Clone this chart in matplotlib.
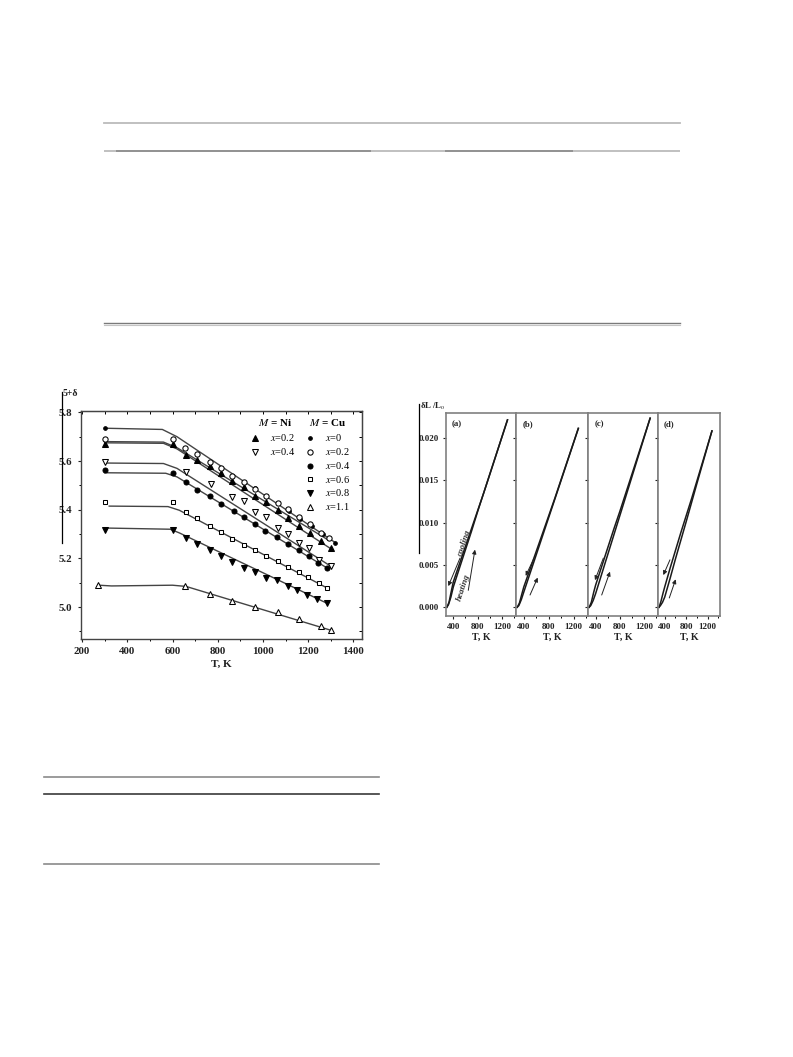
import numpy as np
import matplotlib.pyplot as plt
from matplotlib.ticker import MultipleLocator, FormatStrFormatter

plt.rcParams['font.family'] = ['Liberation Serif', 'DejaVu Serif']
plt.rcParams['mathtext.fontset'] = 'stix'

W, H = 793, 1057

# ---- left chart: oxygen content 5+delta vs T ----
ni02_T = [300, 600, 660, 710, 765, 815, 865, 915, 965, 1015, 1065, 1110, 1160, 1210, 1255, 1300]
ni02_V = [5.672, 5.672, 5.625, 5.605, 5.578, 5.552, 5.518, 5.492, 5.458, 5.432, 5.398, 5.368, 5.335, 5.305, 5.272, 5.242]
ni02_fitT = [300, 560, 620, 1300]
ni02_fitV = [5.675, 5.673, 5.650, 5.240]

ni04_T = [300, 660, 770, 865, 915, 965, 1015, 1065, 1110, 1160, 1205, 1250, 1300]
ni04_V = [5.595, 5.555, 5.505, 5.452, 5.435, 5.392, 5.372, 5.325, 5.302, 5.265, 5.242, 5.195, 5.168]
ni04_fitT = [300, 560, 620, 1300]
ni04_fitV = [5.592, 5.590, 5.570, 5.168]

cu0_T = [300, 965, 1015, 1065, 1115, 1165, 1215, 1265, 1320]
cu0_V = [5.735, 5.490, 5.458, 5.428, 5.395, 5.362, 5.332, 5.300, 5.265]
cu0_fitT = [300, 555, 620, 1320]
cu0_fitV = [5.735, 5.730, 5.700, 5.265]

cu02_T = [300, 600, 655, 710, 765, 815, 865, 915, 965, 1015, 1065, 1110, 1160, 1210, 1255, 1290]
cu02_V = [5.692, 5.690, 5.652, 5.628, 5.596, 5.572, 5.540, 5.515, 5.485, 5.455, 5.428, 5.402, 5.372, 5.342, 5.305, 5.285]
cu02_fitT = [300, 560, 620, 1290]
cu02_fitV = [5.680, 5.678, 5.655, 5.275]

cu04_T = [300, 600, 660, 710, 765, 815, 870, 915, 965, 1010, 1060, 1110, 1160, 1205, 1245, 1285]
cu04_V = [5.563, 5.552, 5.515, 5.482, 5.455, 5.425, 5.395, 5.370, 5.342, 5.312, 5.290, 5.260, 5.235, 5.208, 5.182, 5.160]
cu04_fitT = [300, 570, 620, 1285]
cu04_fitV = [5.552, 5.550, 5.535, 5.160]

cu06_T = [300, 600, 660, 710, 765, 815, 865, 915, 965, 1015, 1065, 1110, 1160, 1200, 1250, 1285]
cu06_V = [5.432, 5.430, 5.392, 5.368, 5.335, 5.310, 5.280, 5.255, 5.235, 5.208, 5.188, 5.165, 5.143, 5.122, 5.100, 5.078]
cu06_fitT = [320, 580, 630, 1285]
cu06_fitV = [5.415, 5.413, 5.398, 5.078]

cu08_T = [300, 600, 660, 710, 765, 815, 865, 915, 965, 1015, 1060, 1110, 1150, 1195, 1240, 1285]
cu08_V = [5.318, 5.316, 5.285, 5.260, 5.235, 5.210, 5.185, 5.160, 5.145, 5.120, 5.110, 5.085, 5.072, 5.048, 5.035, 5.015]
cu08_fitT = [300, 590, 630, 1285]
cu08_fitV = [5.325, 5.320, 5.305, 5.015]

cu11_T = [272, 655, 765, 865, 965, 1065, 1160, 1255, 1300]
cu11_V = [5.090, 5.088, 5.053, 5.027, 5.000, 4.978, 4.953, 4.922, 4.905]
cu11_fitT = [275, 330, 600, 660, 1300]
cu11_fitV = [5.090, 5.087, 5.090, 5.085, 4.905]

ni_labels = ['x=0.2', 'x=0.4']
cu_labels = ['x=0', 'x=0.2', 'x=0.4', 'x=0.6', 'x=0.8', 'x=1.1']

# ---- right chart: dilatometry dL/L0 vs T, panels (a)-(d) ----
panel_names = ['(a)', '(b)', '(c)', '(d)']
heat_T = [
    [290, 320, 360, 400, 500, 600, 700, 800, 1000, 1290],
    [290, 320, 360, 400, 500, 600, 700, 800, 1000, 1275],
    [290, 320, 360, 400, 500, 600, 700, 800, 1000, 1300],
    [290, 320, 360, 400, 500, 600, 700, 800, 1000, 1280],
]
heat_dL = [
    [0.0, 0.0003, 0.0012, 0.0024, 0.0046, 0.0068, 0.0090, 0.0113, 0.0157, 0.0221],
    [0.0, 0.0002, 0.0009, 0.0018, 0.0040, 0.0062, 0.0084, 0.0106, 0.0150, 0.0211],
    [0.0, 0.0002, 0.0008, 0.0016, 0.0039, 0.0062, 0.0085, 0.0108, 0.0154, 0.0223],
    [0.0, 0.0002, 0.0006, 0.0012, 0.0034, 0.0057, 0.0079, 0.0101, 0.0146, 0.0208],
]
cool_T = [
    [295, 330, 370, 400, 500, 600, 700, 800, 900, 1000, 1290],
    [295, 330, 370, 400, 500, 600, 700, 800, 900, 1000, 1275],
    [295, 330, 370, 400, 500, 600, 700, 800, 900, 1000, 1300],
    [295, 330, 370, 400, 500, 600, 700, 800, 900, 1000, 1280],
]
cool_dL = [
    [0.0, 0.0006, 0.0020, 0.0030, 0.0051, 0.0072, 0.0093, 0.0114, 0.0135, 0.0157, 0.0221],
    [0.0, 0.0005, 0.0016, 0.0024, 0.0045, 0.0066, 0.0087, 0.0108, 0.0129, 0.0151, 0.0211],
    [0.0, 0.0006, 0.0018, 0.0026, 0.0048, 0.0070, 0.0092, 0.0113, 0.0135, 0.0157, 0.0223],
    [0.0, 0.0007, 0.0017, 0.0024, 0.0046, 0.0067, 0.0088, 0.0108, 0.0128, 0.0149, 0.0208],
]
# arrows: (T tail, dL tail, T head, dL head)
cool_arrows = [(510, 0.0058, 318, 0.0025), (564, 0.0058, 430, 0.0037),
               (528, 0.0058, 390, 0.0032), (498, 0.0056, 374, 0.0038)]
heat_arrows = [(646, 0.0020, 756, 0.0068), (500, 0.00145, 623, 0.0035),
               (501, 0.00145, 638, 0.0042), (485, 0.0011, 604, 0.0033)]


def box(x0, y0, x1, y1):
    return [x0 / W, 1 - y1 / H, (x1 - x0) / W, (y1 - y0) / H]


fig = plt.figure(figsize=(W / 100, H / 100), dpi=100)

# ---------------- left chart ----------------
ax = fig.add_axes(box(80.7, 410.7, 362, 639))
styles = [
    (ni02_T, ni02_V, ni02_fitT, ni02_fitV, '^', 'black', 4.4),
    (ni04_T, ni04_V, ni04_fitT, ni04_fitV, 'v', 'white', 4.4),
    (cu0_T, cu0_V, cu0_fitT, cu0_fitV, 'o', 'black', 2.6),
    (cu02_T, cu02_V, cu02_fitT, cu02_fitV, 'o', 'white', 3.8),
    (cu04_T, cu04_V, cu04_fitT, cu04_fitV, 'o', 'black', 3.6),
    (cu06_T, cu06_V, cu06_fitT, cu06_fitV, 's', 'white', 3.0),
    (cu08_T, cu08_V, cu08_fitT, cu08_fitV, 'v', 'black', 4.6),
    (cu11_T, cu11_V, cu11_fitT, cu11_fitV, '^', 'white', 4.4),
]
for T, V, fT, fV, m, face, ms in styles:
    ax.plot(fT, fV, color='#444444', lw=1.0, zorder=2)
    ax.plot(T, V, ls='none', marker=m, ms=ms, mfc=face, mec='black', mew=0.75, zorder=3)

ax.set_xlim(194, 1438)
ax.set_ylim(4.869, 5.807)
ax.xaxis.set_major_locator(MultipleLocator(200))
ax.xaxis.set_minor_locator(MultipleLocator(100))
ax.yaxis.set_major_locator(MultipleLocator(0.2))
ax.yaxis.set_minor_locator(MultipleLocator(0.1))
ax.yaxis.set_major_formatter(FormatStrFormatter('%.1f'))
ax.tick_params(which='major', direction='out', length=2.5, width=0.8, pad=3.5,
               labelsize=7.8, colors='#222222')
ax.tick_params(which='minor', direction='out', length=1.6, width=0.7)
for lab in ax.get_xticklabels() + ax.get_yticklabels():
    lab.set_fontweight('bold')
for s in ax.spines.values():
    s.set_color('#444444')
    s.set_linewidth(1.0)
top = ax.secondary_xaxis('top')
top.xaxis.set_major_locator(MultipleLocator(200))
top.xaxis.set_minor_locator(MultipleLocator(100))
top.tick_params(which='both', direction='in', length=2.2, width=0.7, labeltop=False)
right = ax.secondary_yaxis('right')
right.yaxis.set_major_locator(MultipleLocator(0.2))
right.yaxis.set_minor_locator(MultipleLocator(0.1))
right.tick_params(which='both', direction='in', length=2.2, width=0.7, labelright=False)
for sec in (top, right):
    for s in sec.spines.values():
        s.set_color('#444444')

# ---------------- right chart ----------------
panel_px = [(445.7, 516), (516, 588), (588, 658), (658, 720)]
for i, (x0, x1) in enumerate(panel_px):
    axp = fig.add_axes(box(x0, 412.7, x1, 615.7))
    axp.plot(heat_T[i], heat_dL[i], color='#1a1a1a', lw=1.1)
    axp.plot(cool_T[i], cool_dL[i], color='#1a1a1a', lw=1.1)
    for t0, v0, t1, v1 in (cool_arrows[i], heat_arrows[i]):
        axp.annotate('', xy=(t1, v1), xytext=(t0, v0),
                     arrowprops=dict(arrowstyle='-|>', lw=0.7, color='#222222',
                                     mutation_scale=6, shrinkA=0, shrinkB=0))
    axp.set_xlim(275, 1430)
    axp.set_ylim(-0.00099, 0.02295)
    axp.xaxis.set_major_locator(MultipleLocator(400))
    axp.xaxis.set_minor_locator(MultipleLocator(200))
    axp.yaxis.set_major_locator(MultipleLocator(0.005))
    axp.yaxis.set_major_formatter(FormatStrFormatter('%.3f'))
    axp.tick_params(which='major', direction='out', length=2.5, width=0.8, pad=2.5,
                    labelsize=6.5, colors='#222222')
    axp.tick_params(which='minor', direction='out', length=1.5, width=0.7)
    if i > 0:
        axp.tick_params(axis='y', labelleft=False)
    for lab in axp.get_xticklabels() + axp.get_yticklabels():
        lab.set_fontweight('bold')
    for s in axp.spines.values():
        s.set_color('#808080')
        s.set_linewidth(1.2)
    axp.text(0.09, 0.945, panel_names[i], transform=axp.transAxes, fontsize=6.3,
             fontweight='bold', ha='left', va='center', color='#222222')
    axp.text((x0 + x1) / 2 / W, 1 - 637.5 / H, 'T, K', transform=fig.transFigure,
             fontsize=7.2, fontweight='bold', ha='center', va='center', color='#222222')
    if i == 0:
        axp.text(576, 0.0076, 'cooling', rotation=72, rotation_mode='anchor',
                 ha='center', va='center', fontsize=6.5, fontstyle='italic',
                 fontweight='bold', color='#333333')
        axp.text(560, 0.0024, 'heating', rotation=72, rotation_mode='anchor',
                 ha='center', va='center', fontsize=6.5, fontstyle='italic',
                 fontweight='bold', color='#333333')

# ---------------- page overlay: table rules, labels, legend ----------------
page = fig.add_axes([0, 0, 1, 1])
page.set_xlim(0, W)
page.set_ylim(H, 0)
page.axis('off')

page.plot([104, 680], [122.7, 122.7], color='#bbbbbb', lw=1.3)
for xa, xb, c in [(104, 116, '#bbbbbb'), (116, 371, '#888888'), (371, 445, '#bbbbbb'),
                  (445, 573, '#888888'), (573, 680, '#bbbbbb')]:
    page.plot([xa, xb], [150.5, 150.5], color=c, lw=1.3, solid_capstyle='butt')
page.plot([104, 680], [323, 323], color='#7a7a7a', lw=1.0)
page.plot([104, 680], [324.6, 324.6], color='#c4c4c4', lw=0.8)
page.plot([44, 379], [777.3, 777.3], color='#8a8a8a', lw=1.2)
page.plot([44, 379], [794, 794], color='#3a3a3a', lw=1.2)
page.plot([44, 379], [864.3, 864.3], color='#8a8a8a', lw=1.2)

# scan edge lines beside the two charts
page.plot([62, 62], [392, 543], color='black', lw=0.9)
page.plot([419, 419], [403.7, 553], color='black', lw=0.9)

page.text(63, 394, '5+δ', fontsize=7, fontweight='bold', ha='left', va='center', color='#222222')
page.text(420, 406.5, 'δL /L$_{\\rm o}$', fontsize=6.3, fontweight='bold', ha='left',
          va='center', color='#222222')
page.text(221.3, 664, 'T, K', fontsize=8, fontweight='bold', ha='center', va='center',
          color='#222222')

# legend of left chart
page.text(275, 422.7, '$M$ = Ni', fontsize=8, fontweight='bold', ha='center', va='center')
page.text(328, 422.7, '$M$ = Cu', fontsize=8, fontweight='bold', ha='center', va='center')
rows = [437.7, 451.7, 465.7, 479.3, 493.0, 506.7]
for k, lab in enumerate(ni_labels):
    _, _, _, _, m, face, ms = styles[k]
    page.plot([255], [rows[k]], ls='none', marker=m, ms=ms, mfc=face, mec='black', mew=0.75)
    page.text(270, rows[k], '$x$' + lab[1:], fontsize=7.5, ha='left', va='center')
for k, lab in enumerate(cu_labels):
    _, _, _, _, m, face, ms = styles[k + 2]
    page.plot([310], [rows[k]], ls='none', marker=m, ms=ms, mfc=face, mec='black', mew=0.75)
    page.text(325, rows[k], '$x$' + lab[1:], fontsize=7.5, ha='left', va='center')

fig.savefig('out.png', dpi=100, facecolor='white')
